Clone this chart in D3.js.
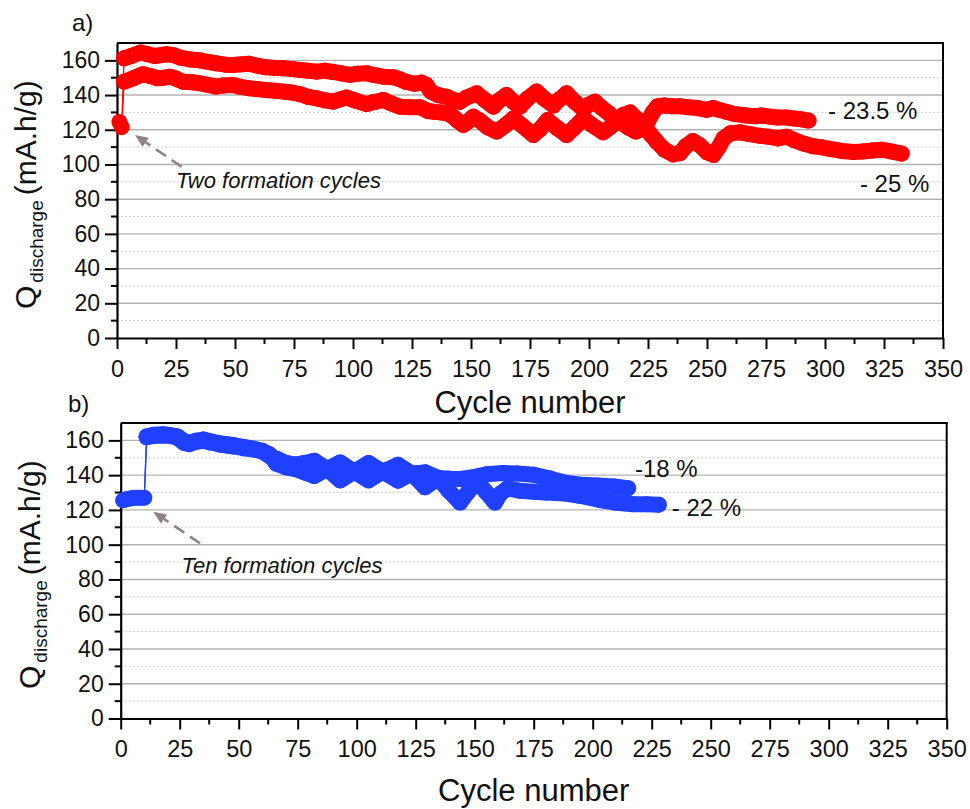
<!DOCTYPE html>
<html><head><meta charset="utf-8">
<script src="https://cdn.jsdelivr.net/npm/d3@7"></script>
<style>
body{margin:0;background:#fff}
svg{display:block}
text{font-family:"Liberation Sans",Arial,Helvetica,sans-serif;fill:#111}
</style>
</head><body>
<svg id="chart" width="970" height="809"></svg>
<script>
// ---------------- DATA ----------------
const xTickValues = [0,25,50,75,100,125,150,175,200,225,250,275,300,325,350];
const xMinorValues = [12.5,37.5,62.5,87.5,112.5,137.5,162.5,187.5,212.5,237.5,262.5,287.5,312.5,337.5];
const yTickValues = [0,20,40,60,80,100,120,140,160];
const yMinorValues = [10,30,50,70,90,110,130,150];

// Panel a) : two formation cycles
const aFormation = [[1,124.5],[2,121.5]];
const aUpper = [[3,161.2],[6,162.5],[10,164.5],[13,163.5],[16,162.5],[21,163.5],[24,163],[27,161.5],[31,160.5],[35,160],[39,159],[42,158.3],[46,157.5],[49,157.3],[53,157.8],[56,158],[60,156.8],[63,156],[67,155.6],[70.5,155.4],[74,155],[77.5,154.5],[81,154],[84.6,153.5],[88,154],[91.6,153.3],[95,152.5],[98.7,151.6],[102,152.3],[105.8,152.5],[109,151.5],[112.8,150.6],[117,150.3],[120,149],[122.7,147.5],[126,146.5],[129,147.2],[131,146],[133,142],[136,140],[139.7,139],[143,137],[145.3,136.2],[148,138.5],[152.4,141],[156,137],[159.5,133.3],[162,137],[165,140],[168,136],[170.8,133.3],[174,138],[177.8,142],[181,138],[184.9,134],[187,137],[190.5,141],[194,136],[197.6,132],[200,134.5],[202.5,136.2],[205.5,132.5],[208.4,129.5],[211,126],[214,123.7],[217,121],[219.8,119],[222.5,120.5],[225,125],[227,130],[229,133.5],[232,134],[235,133.5],[238.6,133.5],[242,133],[246,132.5],[249.9,131.5],[252.7,132.5],[255,131.5],[258.3,130.3],[262,129],[266.8,128.2],[270,127.8],[273,128.2],[277,127.5],[280,127],[283.8,127],[287,126.5],[290,126],[293,125.3]];
const aLower = [[3,147.7],[7,149.7],[11,152],[14,151],[17,149.7],[20,150],[22.5,150.6],[25,149.5],[28,147.7],[31,147.5],[35,146.8],[38,146],[42,144.9],[45,145.5],[49,145.8],[52,144.8],[56,143.9],[59,143.5],[63,142.9],[67,142.5],[70.5,142],[74,141.5],[77.5,140.5],[81,139],[84.6,138.1],[88,137],[91.6,136.2],[94.5,137.5],[97.3,138.6],[101,136.8],[105.8,134.8],[109,136],[112.8,137.2],[116,135.3],[119.9,133.3],[124,133],[128.4,133],[131.8,130.8],[134,130.4],[137,130],[139.7,129.5],[142,128],[144,125.6],[146.7,122.8],[149,125],[151,127.5],[154,125],[157,121.5],[160.9,119],[164.5,122.5],[168,126.6],[172,122],[176.4,117],[179,120],[182.5,125.6],[186.5,121],[190.5,117],[194,121.5],[197.6,126.6],[201,123],[206,118.5],[209,121.5],[211.7,125.6],[214.5,128.5],[217.4,130],[220,126.5],[223,122.8],[226,117.5],[228.7,113.1],[232,108.5],[235.7,105.8],[238.6,106.5],[241,110.5],[244,113.5],[247,111],[250,107],[252.7,105.5],[255,110],[257,115],[260,118],[264,118.5],[268,117.5],[272.5,116.5],[276,116],[280,115],[283.8,116],[287,114],[291,112],[295,110.5],[298,110],[302,109],[307,107.8],[312,107.2],[316,107.5],[320,108],[324,108.5],[328,107.5],[332.5,106.3]];

// Panel b) : ten formation cycles
const bFormation = [[1,125.5],[2,126],[3,126.3],[4,126.5],[5,126.8],[6,127],[7,127],[8,127],[9,127],[10,127]];
const bMinus18 = [[11,162.3],[14,163.2],[18,163.5],[21,163],[24,162.3],[27,159.5],[29,158.5],[32,159.8],[35,160.5],[38,159.5],[42,158.3],[45,157.8],[48,157.2],[52,156.2],[56,155.3],[60,154],[63,152],[66,146.5],[70,144.5],[74,143.5],[78,141.5],[82,139.5],[87.5,143.5],[93,147.3],[99,142],[105,137],[111,142],[117.5,146],[123.3,141],[129,133],[134.6,138.4],[139,138],[144,137.8],[150,139],[155,140.5],[162,141.2],[168,141],[175,140.2],[182,138],[189,135.5],[195,134.5],[202,134],[209,133.5],[215,132.5]];
const bMinus22 = [[11,161.8],[14,162.6],[18,162.8],[21,162.6],[24,161.5],[27,158.5],[29,157.8],[32,159.2],[35,159.8],[38,158.8],[42,157.6],[45,157],[48,156.5],[52,155.5],[56,154.8],[60,153.6],[63,151],[66,149.5],[70,147],[74,146],[78,147],[82,148.3],[87.5,143.5],[93,137],[99,142],[105,147],[111,142],[117.5,136.8],[123.3,141],[129,141.6],[134.6,138.4],[139,131],[143.8,124.2],[147,130],[151,136.5],[155,130],[158.6,124.2],[161,129.5],[164,132.5],[169,131],[175,130.5],[180,130],[188,129.5],[195,128],[203,125.7],[209,124.3],[217,123.3],[223,123.3],[228,123]];

// annotations (data coordinates)
const aNotes = [{text:"- 23.5 %", c:301.3, v:126.2},{text:"- 25 %", c:314.8, v:83.9}];
const bNotes = [{text:"-18 %", c:217.9, v:139},{text:"- 22 %", c:233.5, v:116.5}];

// ---------------- DRAW ----------------
const svg = d3.select("#chart");
const RED = "#ff0000", BLUE = "#1f41ff", ARROW = "#8f8283";
const FONT = "Liberation Sans, Arial, sans-serif";

function panel(o){
  const g = svg.append("g");
  const x = d3.scaleLinear().domain([0,350]).range([o.l,o.r]);
  const y = d3.scaleLinear().domain([0,170]).range([o.b,o.t]);

  // grid
  g.selectAll(".minor").data(yMinorValues).join("line")
    .attr("x1",o.l).attr("x2",o.r).attr("y1",d=>y(d)).attr("y2",d=>y(d))
    .attr("stroke","#cfcfcf").attr("stroke-width",1).attr("stroke-dasharray","2,2");
  g.selectAll(".major").data(yTickValues.filter(d=>d>0)).join("line")
    .attr("x1",o.l).attr("x2",o.r).attr("y1",d=>y(d)).attr("y2",d=>y(d))
    .attr("stroke","#b3b3b3").attr("stroke-width",1.4);

  // frame top/right
  g.append("line").attr("x1",o.l).attr("x2",o.r+1).attr("y1",o.t).attr("y2",o.t).attr("stroke","#000").attr("stroke-width",2.2);
  g.append("line").attr("x1",o.r).attr("x2",o.r).attr("y1",o.t).attr("y2",o.b).attr("stroke","#000").attr("stroke-width",2);

  // axes
  const ax = g.append("g").attr("transform",`translate(0,${o.b})`)
    .call(d3.axisBottom(x).tickValues(xTickValues).tickSize(11).tickSizeOuter(0).tickPadding(11));
  ax.selectAll("text").attr("font-size",23.5).attr("font-family",FONT).attr("fill","#111");
  ax.selectAll("line").attr("stroke","#000").attr("stroke-width",2);
  ax.select(".domain").attr("stroke","#000").attr("stroke-width",2.2);
  ax.selectAll(".mt").data(xMinorValues).join("line").attr("class","mt")
    .attr("x1",d=>x(d)).attr("x2",d=>x(d)).attr("y1",0).attr("y2",6).attr("stroke","#000").attr("stroke-width",2);

  const ay = g.append("g").attr("transform",`translate(${o.l},0)`)
    .call(d3.axisLeft(y).tickValues(yTickValues).tickSize(12).tickSizeOuter(0).tickPadding(5));
  ay.selectAll("text").attr("font-size",23).attr("font-family",FONT).attr("fill","#111");
  ay.selectAll("line").attr("stroke","#000").attr("stroke-width",2);
  ay.select(".domain").attr("stroke","#000").attr("stroke-width",2.2);
  ay.selectAll(".mt").data(yMinorValues).join("line").attr("class","mt")
    .attr("x1",0).attr("x2",-6).attr("y1",d=>y(d)).attr("y2",d=>y(d)).attr("stroke","#000").attr("stroke-width",2);

  // series
  const line = d3.line().x(d=>x(d[0])).y(d=>y(d[1]));
  o.series.forEach(s=>{
    const all = o.formation.concat(s);
    g.append("path").attr("d",line(all)).attr("fill","none").attr("stroke",o.color).attr("stroke-width",1.3);
    g.append("path").attr("d",line(s)).attr("fill","none").attr("stroke",o.color)
      .attr("stroke-width",16).attr("stroke-linejoin","round").attr("stroke-linecap","round");
    g.selectAll(null).data(s).join("circle").attr("cx",d=>x(d[0])).attr("cy",d=>y(d[1])).attr("r",8).attr("fill",o.color);
  });
  g.selectAll(null).data(o.formation).join("circle").attr("cx",d=>x(d[0])).attr("cy",d=>y(d[1])).attr("r",8).attr("fill",o.color);

  // formation arrow + text
  const x1=x(o.arrow.tail[0]), y1=y(o.arrow.tail[1]), x2=x(o.arrow.tip[0]), y2=y(o.arrow.tip[1]);
  const ang = Math.atan2(y2-y1,x2-x1), L=13, W=5.5;
  const bx = x2-L*Math.cos(ang), by = y2-L*Math.sin(ang);
  g.append("line").attr("x1",x1).attr("y1",y1).attr("x2",bx).attr("y2",by)
    .attr("stroke",ARROW).attr("stroke-width",2.6).attr("stroke-dasharray","12,7");
  g.append("path").attr("d",`M${x2},${y2}L${bx-W*Math.sin(ang)},${by+W*Math.cos(ang)}L${bx+W*Math.sin(ang)},${by-W*Math.cos(ang)}Z`).attr("fill",ARROW);
  g.append("text").attr("x",x(o.arrow.label[0])).attr("y",y(o.arrow.label[1]))
    .attr("font-size",22).attr("font-style","italic").text(o.arrow.text);

  // percent labels
  g.selectAll(null).data(o.notes).join("text").attr("x",d=>x(d.c)).attr("y",d=>y(d.v))
    .attr("font-size",24).text(d=>d.text);

  // x title
  g.append("text").attr("x",(o.l+o.r)/2).attr("y",o.xTitleY).attr("text-anchor","middle")
    .attr("font-size",31).text("Cycle number");

  // y title
  const t = g.append("text").attr("transform",`translate(${o.yTitleX},${o.yTitleY}) rotate(-90)`);
  t.append("tspan").attr("font-size",30).text("Q");
  t.append("tspan").attr("font-size",19).attr("dx",3).attr("dy",7).text("discharge");
  t.append("tspan").attr("font-size",30).attr("dx",5).attr("dy",-7).text("(mA.h/g)");

  // panel letter
  g.append("text").attr("x",o.letterX).attr("y",o.letterY).attr("font-size",24).text(o.letter);
}

panel({l:117,r:943,t:43,b:338,color:RED,formation:aFormation,series:[aUpper,aLower],
  arrow:{tail:[27.4,98.7],tip:[7.6,117],label:[25,86.4],text:"Two formation cycles"},
  notes:aNotes,xTitleY:413,yTitleX:36,yTitleY:309,letter:"a)",letterX:72,letterY:31});
panel({l:120.7,r:946.7,t:423,b:718.5,color:BLUE,formation:bFormation,series:[bMinus18,bMinus22],
  arrow:{tail:[33.6,100.8],tip:[13.8,119],label:[25.8,83.7],text:"Ten formation cycles"},
  notes:bNotes,xTitleY:801,yTitleX:40,yTitleY:689,letter:"b)",letterX:68,letterY:412});
</script>
</body></html>
